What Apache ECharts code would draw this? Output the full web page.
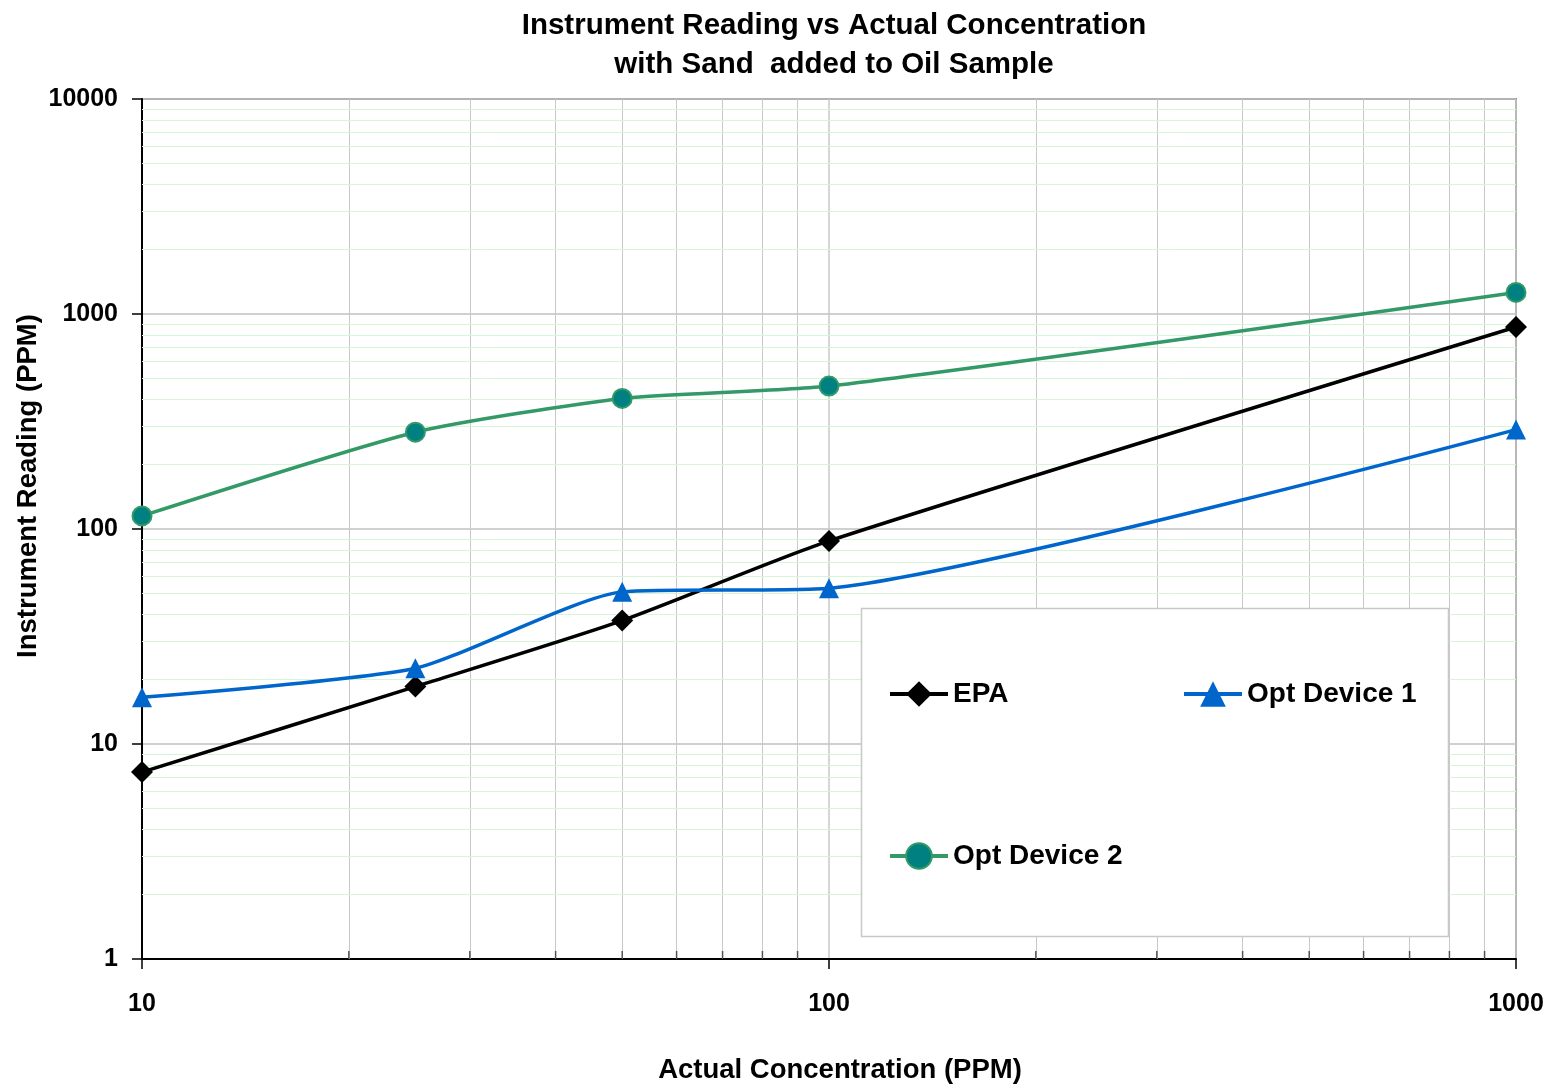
<!DOCTYPE html>
<html>
<head>
<meta charset="utf-8">
<script src="https://cdn.jsdelivr.net/npm/echarts@6/dist/echarts.min.js"></script>
<style>html,body{margin:0;padding:0;background:#fff;}#main{width:1550px;height:1085px;}</style>
</head>
<body>
<div id="main"></div>
<script>
// ---- data ----
var xValues = [10, 25, 50, 100, 1000];
var epa = [7.4, 18.5, 37.5, 88, 870];
var optDevice1 = [16.5, 22.5, 51, 53, 290];
var optDevice2 = [115, 282, 405, 462, 1260];
var seriesNames = ['EPA', 'Opt Device 1', 'Opt Device 2'];
var xMinorTicks = [20, 30, 40, 50, 60, 70, 80, 90, 200, 300, 400, 500, 600, 700, 800, 900];
var yMinorTicks = [2, 3, 4, 5, 6, 7, 8, 9, 20, 30, 40, 50, 60, 70, 80, 90,
                   200, 300, 400, 500, 600, 700, 800, 900, 2000, 3000, 4000, 5000, 6000, 7000, 8000, 9000];
var titleLines = ['Instrument Reading vs Actual Concentration', 'with Sand  added to Oil Sample'];
var xName = 'Actual Concentration (PPM)';
var yName = 'Instrument Reading (PPM)';

function pairs(ys) { return xValues.map(function (x, i) { return [x, ys[i]]; }); }

var FONT = '"Liberation Sans", Arial, sans-serif';

var chart = echarts.init(document.getElementById('main'), null, {renderer: 'canvas'});

var minorLines = [];
xMinorTicks.forEach(function (v) { minorLines.push({xAxis: v, lineStyle: {color: '#c8c8c8', width: 1, type: 'solid'}}); });
yMinorTicks.forEach(function (v) { minorLines.push({yAxis: v, lineStyle: {color: '#d6f5d6', width: 1, type: 'solid'}}); });

var legendCommon = {
  orient: 'horizontal', itemWidth: 58, itemHeight: 32, itemGap: 10,
  textStyle: {fontFamily: FONT, fontWeight: 'bold', fontSize: 28, color: '#000'},
  lineStyle: {width: 4},
  selectedMode: false, z: 10
};

function plainLabel(v) { return String(Math.round(v)); }

var SMOOTH = 0.2;

var option = {
  animation: false,
  backgroundColor: '#fff',
  title: {
    text: titleLines.join('\n'),
    left: 829, top: 1, textAlign: 'center',
    textStyle: {fontFamily: FONT, fontWeight: 'bold', fontSize: 29.5, lineHeight: 39, color: '#000'}
  },
  grid: {left: 142, right: 34, top: 99, bottom: 126, containLabel: false, outerBoundsMode: 'none',
         show: true, borderColor: '#888', borderWidth: 2, backgroundColor: 'transparent'},
  legend: [
    Object.assign({}, legendCommon, {data: [seriesNames[0]], left: 883, top: 675}),
    Object.assign({}, legendCommon, {data: [seriesNames[1]], left: 1177, top: 675}),
    Object.assign({}, legendCommon, {data: [seriesNames[2]], left: 883, top: 837})
  ],
  graphic: [{
    type: 'rect', z: 3, silent: true,
    shape: {x: 861.5, y: 608.5, width: 587, height: 328},
    style: {fill: '#fff', stroke: '#c8c8c8', lineWidth: 1.5}
  }],
  xAxis: {
    type: 'log', logBase: 10, min: 10, max: 1000,
    name: xName, nameLocation: 'middle', nameGap: 97, nameMoveOverlap: false,
    nameTextStyle: {fontFamily: FONT, fontWeight: 'bold', fontSize: 27.5, color: '#000', padding: [0, 0, 0, 22]},
    axisLine: {show: true, lineStyle: {color: '#000', width: 2}},
    axisTick: {show: true, inside: false, length: 10, lineStyle: {color: '#000', width: 1.5}},
    axisLabel: {margin: 33, fontFamily: FONT, fontWeight: 'bold', fontSize: 25, color: '#000', formatter: plainLabel},
    splitLine: {show: true, lineStyle: {color: '#c8c8c8', width: 1.5}},
    minorTick: {show: false}, minorSplitLine: {show: false}
  },
  yAxis: {
    type: 'log', logBase: 10, min: 1, max: 10000,
    name: yName, nameLocation: 'middle', nameGap: 100, nameMoveOverlap: false,
    nameTextStyle: {fontFamily: FONT, fontWeight: 'bold', fontSize: 27.5, color: '#000', padding: [0, 0, 0, 86]},
    axisLine: {show: true, lineStyle: {color: '#000', width: 2}},
    axisTick: {show: true, inside: false, length: 10, lineStyle: {color: '#000', width: 1.5}},
    axisLabel: {margin: 24, fontFamily: FONT, fontWeight: 'bold', fontSize: 25, color: '#000', formatter: plainLabel},
    splitLine: {show: true, lineStyle: {color: '#c0c0c0', width: 1.5}},
    minorTick: {show: false}, minorSplitLine: {show: false}
  },
  series: [
    {
      name: 'gridMinor', type: 'line', data: [], silent: true, z: 1,
      markLine: {silent: true, symbol: 'none', label: {show: false}, z: 1, animation: false, data: minorLines}
    },
    {
      name: 'minorTicks', type: 'scatter', silent: true, z: 6,
      data: xMinorTicks.map(function (v) { return [v, 1]; }),
      symbol: 'rect', symbolSize: [1.5, 8], symbolOffset: [0, -4],
      itemStyle: {color: '#333'}
    },
    {
      name: seriesNames[0], type: 'line', data: pairs(epa), smooth: SMOOTH, z: 5,
      symbol: 'diamond', symbolSize: 22,
      lineStyle: {color: '#000', width: 3.5},
      itemStyle: {color: '#000', borderColor: '#000', borderWidth: 0}
    },
    {
      name: seriesNames[1], type: 'line', data: pairs(optDevice1), smooth: SMOOTH, z: 5,
      symbol: 'triangle', symbolSize: 20,
      lineStyle: {color: '#0066CC', width: 3.5},
      itemStyle: {color: '#0066CC', borderColor: '#0066CC', borderWidth: 0}
    },
    {
      name: seriesNames[2], type: 'line', data: pairs(optDevice2), smooth: SMOOTH, z: 5,
      symbol: 'circle', symbolSize: 19,
      lineStyle: {color: '#339966', width: 3.5},
      itemStyle: {color: '#008080', borderColor: '#339966', borderWidth: 2}
    }
  ]
};
chart.setOption(option);
</script>
</body>
</html>
